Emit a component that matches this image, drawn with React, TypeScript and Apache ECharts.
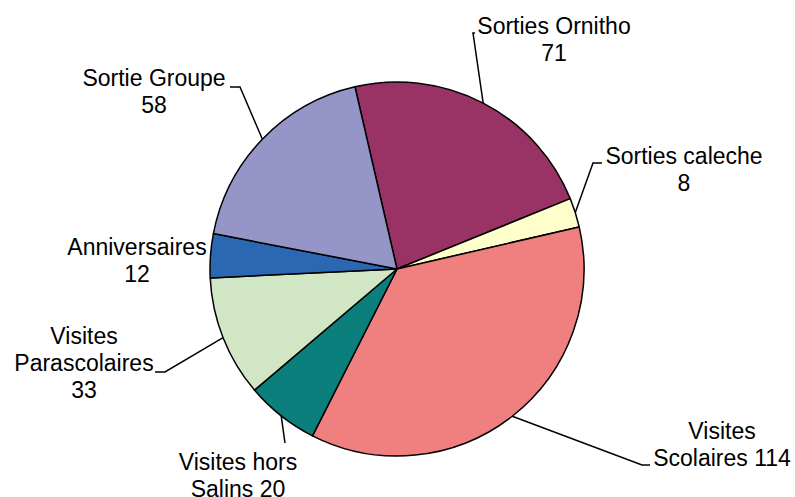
import React, { useEffect, useRef } from 'react';
import * as echarts from 'echarts';

const categories = [
  'Sorties Ornitho',
  'Sorties caleche',
  'Visites Scolaires',
  'Visites hors Salins',
  'Visites Parascolaires',
  'Anniversaires',
  'Sortie Groupe',
];
const values = [71, 8, 114, 20, 33, 12, 58];
const labelTemplates = [
  'Sorties Ornitho\n{v}',
  'Sorties caleche\n{v}',
  'Visites\nScolaires {v}',
  'Visites hors\nSalins {v}',
  'Visites\nParascolaires\n{v}',
  'Anniversaires\n{v}',
  'Sortie Groupe\n{v}',
];
const colors = ['#993366', '#FFFFCC', '#F08080', '#0A7F7B', '#D0E6C4', '#2C67B1', '#9595C8'];

// label layout: text block centre, and leader line elbow / end points
const labelCentres: number[][] = [
  [554, 39],
  [684, 169],
  [722, 444],
  [238, 475],
  [84, 363],
  [137, 260],
  [154, 91],
];
const leaderEnds: (number[][] | null)[] = [
  [[473, 33], [475, 33]],
  [[593, 163], [602, 163]],
  [[642, 465], [650, 465]],
  [[285, 443], [285, 443]],
  [[165, 372], [155, 372]],
  null,
  [[240, 87], [230, 87]],
];

export default function App() {
  const ref = useRef<HTMLDivElement>(null);
  useEffect(() => {
    document.body.style.margin = '0';
    if (!ref.current) return;
    const chart = echarts.init(ref.current, null, { renderer: 'svg' });
    chart.setOption({
      animation: false,
      backgroundColor: '#ffffff',
      series: [
        {
          type: 'pie',
          center: [397, 269],
          radius: 187,
          startAngle: 103,
          clockwise: true,
          avoidLabelOverlap: false,
          data: categories.map((name, i) => ({
            name,
            value: values[i],
            itemStyle: { color: colors[i] },
          })),
          itemStyle: { borderColor: '#000000', borderWidth: 1.5 },
          label: {
            show: true,
            position: 'outside',
            color: '#000000',
            fontFamily: 'Liberation Sans, Arial, sans-serif',
            fontSize: 23,
            lineHeight: 27,
            align: 'center',
            formatter: (p: any) =>
              labelTemplates[p.dataIndex].replace('{v}', String(values[p.dataIndex])),
          },
          labelLine: {
            show: true,
            lineStyle: { color: '#000000', width: 1.5 },
          },
          emphasis: { disabled: true },
          labelLayout: (params: any) => {
            const i = params.dataIndex;
            const c = labelCentres[i];
            const res: any = {
              x: c[0],
              y: c[1],
              align: 'center',
              verticalAlign: 'middle',
            };
            const pts = params.labelLinePoints;
            const ends = leaderEnds[i];
            if (pts && ends) {
              res.labelLinePoints = [pts[0], ends[0], ends[1]];
            } else if (pts) {
              res.labelLinePoints = [pts[0], pts[0], pts[0]];
            }
            return res;
          },
        },
      ],
    });
    return () => chart.dispose();
  }, []);
  return <div ref={ref} style={{ width: 795, height: 497 }} />;
}
